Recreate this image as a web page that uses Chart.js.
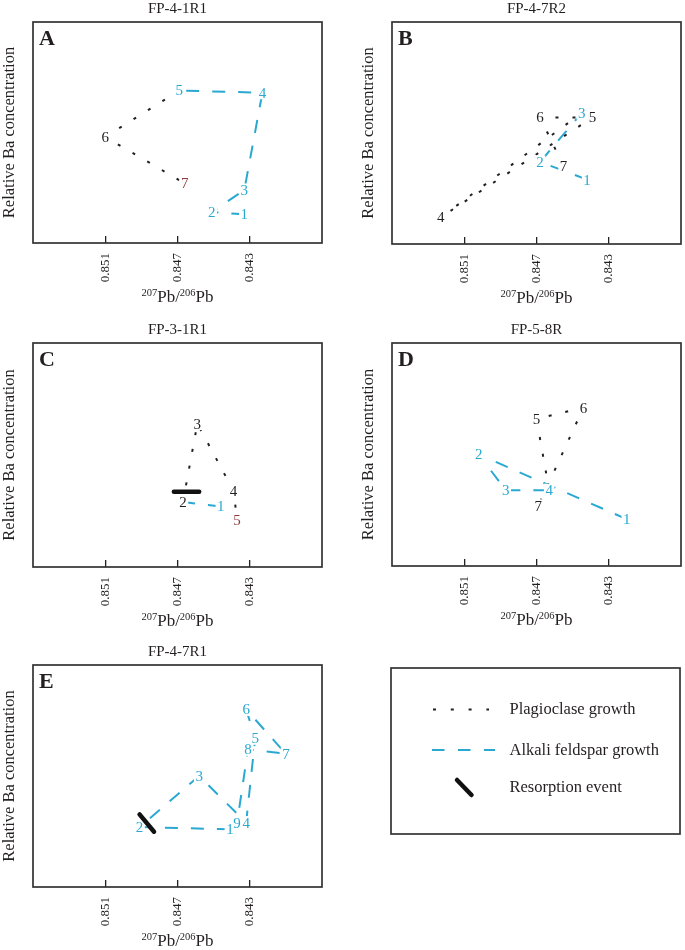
<!DOCTYPE html>
<html>
<head>
  <meta charset="utf-8">
  <title>Ba vs 207Pb/206Pb zoning paths</title>
  <script src="https://cdn.jsdelivr.net/npm/chart.js@4.4.0/dist/chart.umd.min.js"></script>
  <style>
    html, body { margin: 0; padding: 0; background: #fff; }
    body { width: 685px; height: 950px; position: relative; overflow: hidden; }
    canvas { position: absolute; }
  </style>
</head>
<body>
<canvas id="chartA" width="342" height="310" style="left:0px;top:0px"></canvas>
<canvas id="chartB" width="326" height="311" style="left:359px;top:0px"></canvas>
<canvas id="chartC" width="342" height="313" style="left:0px;top:321px"></canvas>
<canvas id="chartD" width="326" height="312" style="left:359px;top:321px"></canvas>
<canvas id="chartE" width="342" height="311" style="left:0px;top:643px"></canvas>
<canvas id="legend" width="294" height="171" style="left:389px;top:666px"></canvas>

<script>
  // --- data ------------------------------------------------------------
  // x = 207Pb/206Pb, y = relative Ba (arbitrary 0-100)
  // phase per point: a = alkali feldspar, p = plagioclase, r = last analysis
  const xTicks = [0.851, 0.847, 0.843];

  const A_x = [0.8433, 0.8451, 0.8433, 0.8423, 0.8469, 0.8510, 0.8466];
  const A_y = [13, 14, 24, 68, 69, 48, 27];
  const A_phase = ['a', 'a', 'a', 'a', 'a', 'p', 'r'];
  const A_seg = ['a', 'a', 'a', 'a', 'p', 'p'];

  const B_x = [0.8442, 0.8468, 0.8445, 0.8523, 0.8439, 0.8468, 0.8455];
  const B_y = [29, 37, 59, 12, 57, 57, 35];
  const B_phase = ['a', 'a', 'a', 'p', 'p', 'p', 'p'];
  const B_seg = ['a', 'a', 'p', 'p', 'p', 'p'];

  const C_x = [0.8446, 0.8467, 0.8459, 0.8439, 0.8437];
  const C_y = [27, 29, 64, 34, 21];
  const C_phase = ['a', 'p', 'p', 'p', 'r'];
  const C_seg = ['a', 'p', 'p', 'p'];
  const C_resorb_x = [0.8472, 0.8458];
  const C_resorb_y = [33.6, 33.6];

  const D_x = [0.8420, 0.8502, 0.8487, 0.8463, 0.8470, 0.8444, 0.8469];
  const D_y = [21, 50, 34, 34, 66, 71, 27];
  const D_phase = ['a', 'a', 'a', 'a', 'p', 'p', 'p'];
  const D_seg = ['a', 'a', 'a', 'p', 'p', 'p'];

  const E_x = [0.8441, 0.8491, 0.8458, 0.8432, 0.8427, 0.8432, 0.8410, 0.8431, 0.8437];
  const E_y = [26, 27, 50, 29, 67, 80, 60, 62, 29];
  const E_phase = ['a', 'a', 'a', 'a', 'a', 'a', 'a', 'a', 'a'];
  const E_seg = ['a', 'a', 'a', 'a', 'a', 'a', 'a', 'a'];
  const E_resorb_x = [0.8491, 0.8483];
  const E_resorb_y = [32.7, 24.9];

  // --- styling ---------------------------------------------------------
  const SERIF = '"Liberation Serif", "Times New Roman", serif';
  const INK = '#231f20';
  const CYAN = '#29a9d2';
  const RED = '#8e3b3e';
  const LABEL_COLORS = { a: CYAN, p: INK, r: RED };
  const PLAG_DASH = [3, 14];
  const ALK_DASH = [13, 13];

  Chart.defaults.font.family = SERIF;
  Chart.defaults.color = INK;

  const zip = (xs, ys) => xs.map((x, i) => ({ x, y: ys[i] }));

  // numbers next to each analysis spot, with a white halo so the lines stop short
  const pointLabels = {
    id: 'pointLabels',
    afterDatasetDraw(chart, args) {
      const ds = chart.data.datasets[args.index];
      if (!ds.phases) return;
      const ctx = chart.ctx;
      ctx.save();
      ctx.font = '15px ' + SERIF;
      ctx.textAlign = 'center';
      ctx.textBaseline = 'middle';
      ctx.fillStyle = '#fff';
      args.meta.data.forEach((pt, i) => {
        const w = ctx.measureText(String(i + 1)).width;
        ctx.fillRect(pt.x - w / 2 - 1.5, pt.y - 6.5, w + 3, 13);
      });
      args.meta.data.forEach((pt, i) => {
        ctx.fillStyle = LABEL_COLORS[ds.phases[i]];
        ctx.fillText(String(i + 1), pt.x, pt.y + 1);
      });
      ctx.restore();
    }
  };

  function drawPbTitle(ctx, cx, baseline) {
    const parts = [['207', true], ['Pb/', false], ['206', true], ['Pb', false]];
    const fontFor = sup => sup ? '10.5px ' + SERIF : '17px ' + SERIF;
    let total = 0;
    parts.forEach(([t, sup]) => { ctx.font = fontFor(sup); total += ctx.measureText(t).width; });
    let x = cx - total / 2;
    ctx.textAlign = 'left';
    ctx.textBaseline = 'alphabetic';
    parts.forEach(([t, sup]) => {
      ctx.font = fontFor(sup);
      ctx.fillText(t, x, sup ? baseline - 6.5 : baseline);
      x += ctx.measureText(t).width;
    });
  }

  // frame, sample name, panel letter and x-axis title
  const panelFrame = {
    id: 'panelFrame',
    afterDraw(chart, args, opts) {
      const { ctx, chartArea: a } = chart;
      ctx.save();
      ctx.strokeStyle = '#333';
      ctx.lineWidth = 1.7;
      ctx.strokeRect(a.left, a.top, a.right - a.left, a.bottom - a.top);
      ctx.fillStyle = INK;
      ctx.font = '15px ' + SERIF;
      ctx.textAlign = 'center';
      ctx.textBaseline = 'alphabetic';
      ctx.fillText(opts.title, (a.left + a.right) / 2, a.top - 9);
      ctx.font = 'bold 22px ' + SERIF;
      ctx.textAlign = 'left';
      ctx.fillText(opts.letter, a.left + 6, a.top + 23);
      drawPbTitle(ctx, (a.left + a.right) / 2, a.bottom + 59);
      ctx.restore();
    }
  };

  function panelChart(id, title, letter, xs, ys, phases, segs, resorb, padRight) {
    const datasets = [{
      data: zip(xs, ys),
      phases: phases,
      showLine: true,
      pointRadius: 0,
      borderWidth: 1.8,
      borderColor: INK,
      order: 1,
      segment: {
        borderColor: c => segs[c.p0DataIndex] === 'a' ? CYAN : INK,
        borderDash: c => segs[c.p0DataIndex] === 'a' ? ALK_DASH : PLAG_DASH,
        borderWidth: c => segs[c.p0DataIndex] === 'a' ? 2 : 2
      }
    }];
    if (resorb) {
      datasets.push({
        data: zip(resorb[0], resorb[1]),
        showLine: true,
        pointRadius: 0,
        borderColor: '#111',
        borderWidth: 4.5,
        borderCapStyle: 'round',
        order: 0
      });
    }

    return new Chart(document.getElementById(id), {
      type: 'scatter',
      data: { datasets },
      options: {
        responsive: false,
        animation: false,
        layout: { padding: { top: 22, right: padRight, left: 0, bottom: 0 } },
        plugins: {
          legend: { display: false },
          tooltip: { enabled: false },
          panelFrame: { title, letter }
        },
        scales: {
          x: {
            type: 'linear',
            min: 0.839,
            max: 0.855,
            reverse: true,
            afterBuildTicks(scale) { scale.ticks = xTicks.map(v => ({ value: v })); },
            afterFit(scale) { scale.height = 67; },
            border: { display: false },
            grid: {
              drawOnChartArea: false,
              drawTicks: true,
              tickLength: -7,
              color: '#222',
              lineWidth: 1.3
            },
            ticks: {
              autoSkip: false,
              minRotation: 90,
              maxRotation: 90,
              padding: 17,
              font: { size: 13 },
              color: INK,
              callback: v => v.toFixed(3)
            }
          },
          y: {
            min: 0,
            max: 100,
            afterFit(scale) { scale.width = 33; },
            border: { display: false },
            grid: { display: false },
            ticks: { display: false },
            title: {
              display: true,
              text: 'Relative Ba concentration',
              font: { size: 16.5 },
              color: INK,
              padding: 0
            }
          }
        }
      },
      plugins: [pointLabels, panelFrame]
    });
  }

  panelChart('chartA', 'FP-4-1R1', 'A', A_x, A_y, A_phase, A_seg, null, 20);
  panelChart('chartB', 'FP-4-7R2', 'B', B_x, B_y, B_phase, B_seg, null, 4);
  panelChart('chartC', 'FP-3-1R1', 'C', C_x, C_y, C_phase, C_seg, [C_resorb_x, C_resorb_y], 20);
  panelChart('chartD', 'FP-5-8R', 'D', D_x, D_y, D_phase, D_seg, null, 4);
  panelChart('chartE', 'FP-4-7R1', 'E', E_x, E_y, E_phase, E_seg, [E_resorb_x, E_resorb_y], 20);

  // --- key box ------------------------------------------------------------
  const legendItems = ['Plagioclase growth', 'Alkali feldspar growth', 'Resorption event'];

  const keyBox = {
    id: 'keyBox',
    afterDraw(chart) {
      const { ctx, chartArea: a } = chart;
      const L = a.left, T = a.top;
      ctx.save();
      ctx.strokeStyle = '#333';
      ctx.lineWidth = 1.7;
      ctx.strokeRect(L, T, a.right - a.left, a.bottom - a.top);

      ctx.strokeStyle = INK;
      ctx.lineWidth = 2;
      ctx.setLineDash([3, 14.8]);
      ctx.beginPath(); ctx.moveTo(L + 42, T + 41.5); ctx.lineTo(L + 98, T + 41.5); ctx.stroke();

      ctx.strokeStyle = CYAN;
      ctx.lineWidth = 2;
      ctx.setLineDash([12.5, 13.5]);
      ctx.beginPath(); ctx.moveTo(L + 41, T + 82); ctx.lineTo(L + 104, T + 82); ctx.stroke();

      ctx.setLineDash([]);
      ctx.strokeStyle = '#111';
      ctx.lineWidth = 4.5;
      ctx.lineCap = 'round';
      ctx.beginPath(); ctx.moveTo(L + 66, T + 112); ctx.lineTo(L + 80.5, T + 127); ctx.stroke();

      ctx.fillStyle = INK;
      ctx.font = '16.5px ' + SERIF;
      ctx.textAlign = 'left';
      ctx.textBaseline = 'alphabetic';
      [46, 86.5, 124].forEach((dy, i) => ctx.fillText(legendItems[i], L + 118.5, T + dy));
      ctx.restore();
    }
  };

  new Chart(document.getElementById('legend'), {
    type: 'scatter',
    data: { datasets: [] },
    options: {
      responsive: false,
      animation: false,
      layout: { padding: { left: 2, top: 2, right: 3, bottom: 3 } },
      plugins: { legend: { display: false }, tooltip: { enabled: false } },
      scales: { x: { display: false }, y: { display: false } }
    },
    plugins: [keyBox]
  });
</script>
</body>
</html>
